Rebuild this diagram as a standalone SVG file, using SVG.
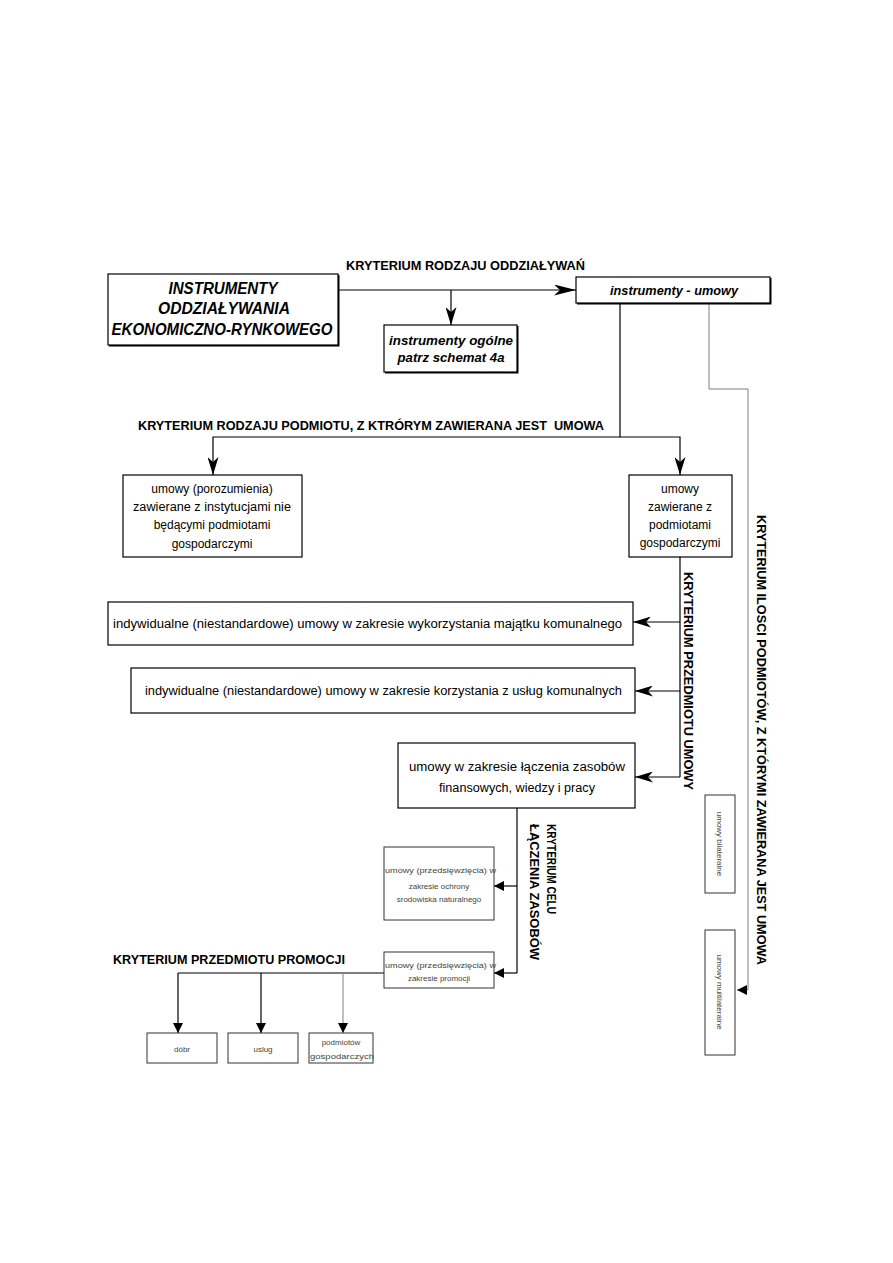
<svg xmlns="http://www.w3.org/2000/svg" width="893" height="1263" viewBox="0 0 893 1263">
<style>
.bx{fill:#fff;stroke:#000;stroke-width:1.2}
.sb{fill:#fff;stroke:#333;stroke-width:1}
.ln{fill:none;stroke:#000;stroke-width:1.2}
.gl{fill:none;stroke:#808080;stroke-width:1}
.hd{font-family:"Liberation Sans",Arial,sans-serif;font-weight:bold;font-size:13px;fill:#000}
.bi{font-family:"Liberation Sans",Arial,sans-serif;font-weight:bold;font-style:italic;fill:#000}
.tx{font-family:"Liberation Sans",Arial,sans-serif;font-size:12px;fill:#000}
.sm{font-family:"Liberation Sans",Arial,sans-serif;font-size:8px;fill:#444}
</style>
<defs>
<marker id="ah" viewBox="0 0 18 11" refX="18" refY="5.5" markerWidth="18" markerHeight="11" orient="auto" markerUnits="userSpaceOnUse"><path d="M0,0 L18,5.5 L0,11 L5,5.5 z" fill="#000"/></marker>
<marker id="ahl" viewBox="0 0 22 11" refX="22" refY="5.5" markerWidth="22" markerHeight="11" orient="auto" markerUnits="userSpaceOnUse"><path d="M0,0 L22,5.5 L0,11 L6,5.5 z" fill="#000"/></marker>
<marker id="at" viewBox="0 0 10 10" refX="10" refY="5" markerWidth="10" markerHeight="10" orient="auto" markerUnits="userSpaceOnUse"><path d="M0,0 L10,5 L0,10 z" fill="#000"/></marker>
</defs>
<rect width="893" height="1263" fill="#fff"/>

<g id="connectors">
<line class="ln" x1="338" y1="290" x2="576" y2="290" marker-end="url(#ahl)"/>
<line class="ln" x1="451" y1="290" x2="451" y2="325" marker-end="url(#ah)"/>
<polyline class="ln" points="620,303 620,437 213,437 213,475" marker-end="url(#ah)"/>
<polyline class="ln" points="620,437 680,437 680,475" marker-end="url(#ah)"/>
<line class="ln" x1="680" y1="557" x2="680" y2="777"/>
<line class="ln" x1="680" y1="622" x2="633" y2="622" marker-end="url(#ah)"/>
<line class="ln" x1="680" y1="691" x2="635" y2="691" marker-end="url(#ah)"/>
<line class="ln" x1="680" y1="777" x2="635" y2="777" marker-end="url(#ah)"/>
<line class="ln" x1="517" y1="808" x2="517" y2="973"/>
<line class="ln" x1="517" y1="886" x2="494" y2="886" marker-end="url(#at)"/>
<line class="ln" x1="517" y1="973" x2="494" y2="973" marker-end="url(#at)"/>
<line class="ln" x1="384" y1="973" x2="178" y2="973"/>
<line class="ln" x1="178" y1="973" x2="178" y2="1033" marker-end="url(#at)"/>
<line class="ln" x1="261" y1="973" x2="261" y2="1033" marker-end="url(#at)"/>
<line class="gl" x1="343" y1="973" x2="343" y2="1033" marker-end="url(#at)"/>
<polyline class="gl" points="709,303 709,389 748,389 748,990 737,990" marker-end="url(#at)"/>
</g>

<g id="labels">
<text class="hd" x="346" y="270" textLength="239" lengthAdjust="spacingAndGlyphs">KRYTERIUM RODZAJU ODDZIAŁYWAŃ</text>
<text class="hd" x="138" y="430" textLength="466" lengthAdjust="spacingAndGlyphs" xml:space="preserve">KRYTERIUM RODZAJU PODMIOTU, Z KTRÓRYM ZAWIERANA JEST  UMOWA</text>
<text class="hd" x="113" y="964" textLength="232" lengthAdjust="spacingAndGlyphs">KRYTERIUM PRZEDMIOTU PROMOCJI</text>
<text class="hd" transform="translate(684,572) rotate(90)" textLength="218" lengthAdjust="spacingAndGlyphs">KRYTERIUM PRZEDMIOTU UMOWY</text>
<text class="hd" transform="translate(757,515) rotate(90)" textLength="450" lengthAdjust="spacingAndGlyphs">KRYTERIUM ILOSCI PODMIOTÓW, Z KTÓRYMI ZAWIERANA JEST UMOWA</text>
<text class="hd" transform="translate(547,824) rotate(90)" textLength="90" lengthAdjust="spacingAndGlyphs">KRYTERIUM CELU</text>
<text class="hd" transform="translate(530,824) rotate(90)" textLength="136" lengthAdjust="spacingAndGlyphs">ŁĄCZENIA ZASOBÓW</text>
</g>

<g id="n-main">
<rect x="109" y="275" width="230.5" height="71.5" fill="#000"/>
<rect class="bx" x="108" y="274" width="230" height="71"/>
<text class="bi" font-size="16" x="223" y="294" text-anchor="middle" textLength="109" lengthAdjust="spacingAndGlyphs">INSTRUMENTY</text>
<text class="bi" font-size="16" x="224" y="314" text-anchor="middle" textLength="132" lengthAdjust="spacingAndGlyphs">ODDZIAŁYWANIA</text>
<text class="bi" font-size="16" x="222" y="335" text-anchor="middle" textLength="221" lengthAdjust="spacingAndGlyphs">EKONOMICZNO-RYNKOWEGO</text>
</g>

<g id="n-umowy">
<rect x="577" y="278" width="194.5" height="26.5" fill="#000"/>
<rect class="bx" x="576" y="277" width="194" height="26"/>
<text class="bi" font-size="13" x="674" y="295" text-anchor="middle" textLength="128" lengthAdjust="spacingAndGlyphs">instrumenty - umowy</text>
</g>

<g id="n-ogolne">
<rect x="385" y="326" width="133.5" height="47.5" fill="#000"/>
<rect class="bx" x="384" y="325" width="133" height="47"/>
<text class="bi" font-size="12" x="451" y="345" text-anchor="middle" textLength="124" lengthAdjust="spacingAndGlyphs">instrumenty ogólne</text>
<text class="bi" font-size="12" x="451" y="362" text-anchor="middle" textLength="107" lengthAdjust="spacingAndGlyphs">patrz schemat 4a</text>
</g>

<g id="n-porozumienia">
<rect class="bx" x="123" y="475" width="179" height="82"/>
<text class="tx" x="212" y="493" text-anchor="middle">umowy (porozumienia)</text>
<text class="tx" x="212" y="511" text-anchor="middle" textLength="158" lengthAdjust="spacingAndGlyphs">zawierane z instytucjami nie</text>
<text class="tx" x="212" y="529" text-anchor="middle">będącymi podmiotami</text>
<text class="tx" x="212" y="548" text-anchor="middle">gospodarczymi</text>
</g>

<g id="n-gospodarczymi">
<rect class="bx" x="629" y="475" width="103" height="82"/>
<text class="tx" x="680" y="493" text-anchor="middle">umowy</text>
<text class="tx" x="680" y="511" text-anchor="middle">zawierane z</text>
<text class="tx" x="680" y="529" text-anchor="middle">podmiotami</text>
<text class="tx" x="680" y="547" text-anchor="middle">gospodarczymi</text>
</g>

<g id="n-majatek">
<rect class="bx" x="108" y="602" width="525" height="43"/>
<text class="tx" font-size="13" x="113" y="628" textLength="509" lengthAdjust="spacingAndGlyphs">indywidualne (niestandardowe) umowy w zakresie wykorzystania majątku komunalnego</text>
</g>

<g id="n-uslugi">
<rect class="bx" x="131" y="668" width="504" height="45"/>
<text class="tx" font-size="13" x="145" y="695" textLength="477" lengthAdjust="spacingAndGlyphs">indywidualne (niestandardowe) umowy w zakresie korzystania z usług komunalnych</text>
</g>

<g id="n-laczenie">
<rect class="bx" x="398" y="743" width="237" height="65"/>
<text class="tx" font-size="13" x="517" y="771" text-anchor="middle" textLength="216" lengthAdjust="spacingAndGlyphs">umowy w zakresie łączenia zasobów</text>
<text class="tx" font-size="13" x="517" y="792" text-anchor="middle" textLength="156" lengthAdjust="spacingAndGlyphs">finansowych, wiedzy i pracy</text>
</g>

<g id="n-ochrona">
<rect class="sb" x="384" y="847" width="110" height="73"/>
<text class="sm" x="385" y="873" textLength="111" lengthAdjust="spacingAndGlyphs">umowy (przedsięwzięcia) w</text>
<text class="sm" x="439" y="889" text-anchor="middle">zakresie ochrony</text>
<text class="sm" x="439" y="902" text-anchor="middle">srodowiska naturalnego</text>
</g>

<g id="n-promocja">
<rect class="sb" x="384" y="952" width="110" height="36"/>
<text class="sm" x="385" y="968" textLength="111" lengthAdjust="spacingAndGlyphs">umowy (przedsięwzięcia) w</text>
<text class="sm" x="439" y="981" text-anchor="middle">zakresie promocji</text>
</g>

<g id="n-dobr">
<rect class="sb" x="147" y="1033" width="70" height="30"/>
<text class="sm" x="182" y="1052" text-anchor="middle">dóbr</text>
</g>

<g id="n-uslug">
<rect class="sb" x="228" y="1033" width="70" height="30"/>
<text class="sm" x="263" y="1052" text-anchor="middle">uslug</text>
</g>

<g id="n-podmiotow">
<rect class="sb" x="309" y="1033" width="64" height="30"/>
<text class="sm" x="341" y="1045" text-anchor="middle">podmiotów</text>
<text class="sm" x="310" y="1059" textLength="64" lengthAdjust="spacingAndGlyphs">gospodarczych</text>
</g>

<g id="n-bilateralne">
<rect class="sb" x="705" y="795" width="30" height="98"/>
<text class="sm" transform="translate(717,844) rotate(90)" text-anchor="middle">umowy bilateralne</text>
</g>

<g id="n-multilateralne">
<rect class="sb" x="705" y="930" width="30" height="125"/>
<text class="sm" transform="translate(717,992) rotate(90)" text-anchor="middle">umowy multilateralne</text>
</g>
</svg>
